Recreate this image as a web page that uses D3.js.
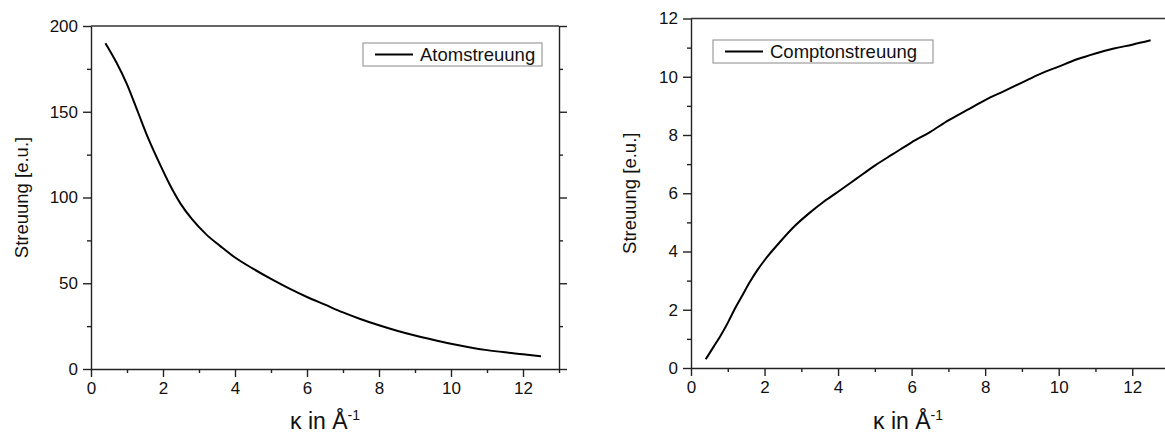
<!DOCTYPE html>
<html>
<head>
<meta charset="utf-8" />
<script src="https://cdn.jsdelivr.net/npm/d3@7"></script>
<style>
  body { margin: 0; background: #fff; }
  svg { font-family: "Liberation Sans", Arial, sans-serif; }
  .domain, .tick line { stroke: #222; stroke-width: 1.4px; }
  .tick text { font-size: 17px; fill: #111; }
</style>
</head>
<body>
<script>
    // Atomstreuung (left panel)
    var atomK = [0.4, 0.7, 1.0, 1.3, 1.6, 1.9, 2.2, 2.5, 2.8, 3.2, 3.6, 4.0, 4.5, 5.0, 5.5, 6.0, 6.5, 7.0, 7.5, 8.0, 8.5, 9.0, 9.5, 10.0, 10.5, 11.0, 11.5, 12.0, 12.5];
    var atomS = [190, 179, 166, 150, 134, 120, 107, 96, 87.5, 78.5, 71.5, 65, 58.5, 52.5, 47, 42, 37.5, 33, 29, 25.5, 22.3, 19.5, 17, 14.7, 12.7, 11, 9.7, 8.6, 7.4];

    // Comptonstreuung (right panel)
    var compK = [0.4, 0.6, 0.8, 1.0, 1.2, 1.4, 1.6, 1.8, 2.0, 2.4, 2.8, 3.2, 3.6, 4.0, 4.5, 5.0, 5.5, 6.0, 6.5, 7.0, 7.5, 8.0, 8.5, 9.0, 9.5, 10.0, 10.5, 11.0, 11.5, 12.0, 12.5];
    var compS = [0.3, 0.7, 1.1, 1.55, 2.05, 2.5, 2.95, 3.35, 3.7, 4.3, 4.85, 5.3, 5.7, 6.05, 6.5, 6.95, 7.35, 7.75, 8.1, 8.5, 8.85, 9.2, 9.5, 9.8, 10.1, 10.35, 10.6, 10.8, 10.97, 11.1, 11.25];

    var xMajor = [0, 2, 4, 6, 8, 10, 12];
    var xMinor = [1, 3, 5, 7, 9, 11, 13];
    var atomYMajor = [0, 50, 100, 150, 200];
    var atomYMinor = [25, 75, 125, 175];
    var compYMajor = [0, 2, 4, 6, 8, 10, 12];
    var compYMinor = [1, 3, 5, 7, 9, 11];

    var svg = d3.select("body").append("svg")
        .attr("width", 1165)
        .attr("height", 435);

    drawPanel({
        left: 91, right: 559, top: 26, bottom: 369,
        xDomain: [0, 13], yDomain: [0, 200],
        xs: atomK, ys: atomS,
        yMajor: atomYMajor, yMinor: atomYMinor,
        name: "Atomstreuung",
        legend: {x: 363, y: 43, w: 179, h: 23},
        yLabelX: 28, xLabelX: 325
    });

    drawPanel({
        left: 691, right: 1169, top: 18.5, bottom: 368,
        xDomain: [0, 13], yDomain: [0, 12],
        xs: compK, ys: compS,
        yMajor: compYMajor, yMinor: compYMinor,
        name: "Comptonstreuung",
        legend: {x: 713, y: 40, w: 220, h: 23},
        yLabelX: 636, xLabelX: 908
    });

    function drawPanel(o) {
        var x = d3.scaleLinear().domain(o.xDomain).range([o.left, o.right]);
        var y = d3.scaleLinear().domain(o.yDomain).range([o.bottom, o.top]);
        var g = svg.append("g");

        // top border, no ticks
        g.append("line")
            .attr("x1", o.left).attr("x2", o.right)
            .attr("y1", o.top).attr("y2", o.top)
            .attr("stroke", "#333").attr("stroke-width", 1.4);

        // right border with outward ticks
        g.append("g").attr("transform", "translate(" + o.right + ",0)")
            .call(d3.axisRight(y).tickValues(o.yMajor).tickSize(8).tickSizeOuter(0).tickFormat(""));
        g.append("g").attr("transform", "translate(" + o.right + ",0)")
            .call(d3.axisRight(y).tickValues(o.yMinor).tickSize(4).tickSizeOuter(0).tickFormat(""))
            .select(".domain").remove();

        // bottom axis
        g.append("g").attr("transform", "translate(0," + o.bottom + ")")
            .call(d3.axisBottom(x).tickValues(xMinor).tickSize(4).tickSizeOuter(0).tickFormat(""))
            .select(".domain").remove();
        g.append("g").attr("transform", "translate(0," + o.bottom + ")")
            .call(d3.axisBottom(x).tickValues(xMajor).tickSize(8).tickSizeOuter(0).tickPadding(5).tickFormat(d3.format("d")));

        // left axis
        g.append("g").attr("transform", "translate(" + o.left + ",0)")
            .call(d3.axisLeft(y).tickValues(o.yMinor).tickSize(4).tickSizeOuter(0).tickFormat(""))
            .select(".domain").remove();
        g.append("g").attr("transform", "translate(" + o.left + ",0)")
            .call(d3.axisLeft(y).tickValues(o.yMajor).tickSize(8).tickSizeOuter(0).tickPadding(5).tickFormat(d3.format("d")));

        // curve
        var pts = o.xs.map(function(v, i) { return [v, o.ys[i]]; });
        g.append("path")
            .datum(pts)
            .attr("fill", "none")
            .attr("stroke", "#000")
            .attr("stroke-width", 2)
            .attr("d", d3.line()
                .x(function(d) { return x(d[0]); })
                .y(function(d) { return y(d[1]); })
                .curve(d3.curveMonotoneX));

        // legend
        var L = o.legend;
        g.append("rect")
            .attr("x", L.x).attr("y", L.y).attr("width", L.w).attr("height", L.h)
            .attr("fill", "#fff").attr("stroke", "#888").attr("stroke-width", 1);
        g.append("line")
            .attr("x1", L.x + 12).attr("x2", L.x + 50)
            .attr("y1", L.y + L.h / 2).attr("y2", L.y + L.h / 2)
            .attr("stroke", "#000").attr("stroke-width", 2);
        g.append("text")
            .attr("x", L.x + 57).attr("y", L.y + L.h / 2 + 6.5)
            .attr("font-size", 18.5).attr("fill", "#111")
            .text(o.name);

        // y label
        g.append("text")
            .attr("transform", "translate(" + o.yLabelX + "," + ((o.top + o.bottom) / 2) + ") rotate(-90)")
            .attr("text-anchor", "middle")
            .attr("font-size", 18.5).attr("fill", "#111")
            .text("Streuung [e.u.]");

        // x label
        var xl = g.append("text")
            .attr("x", o.xLabelX).attr("y", 429)
            .attr("text-anchor", "middle")
            .attr("font-size", 23).attr("fill", "#111");
        xl.append("tspan").text("κ in Å");
        xl.append("tspan").attr("dy", -9).attr("font-size", 14).text("-1");
    }
</script>
</body>
</html>
